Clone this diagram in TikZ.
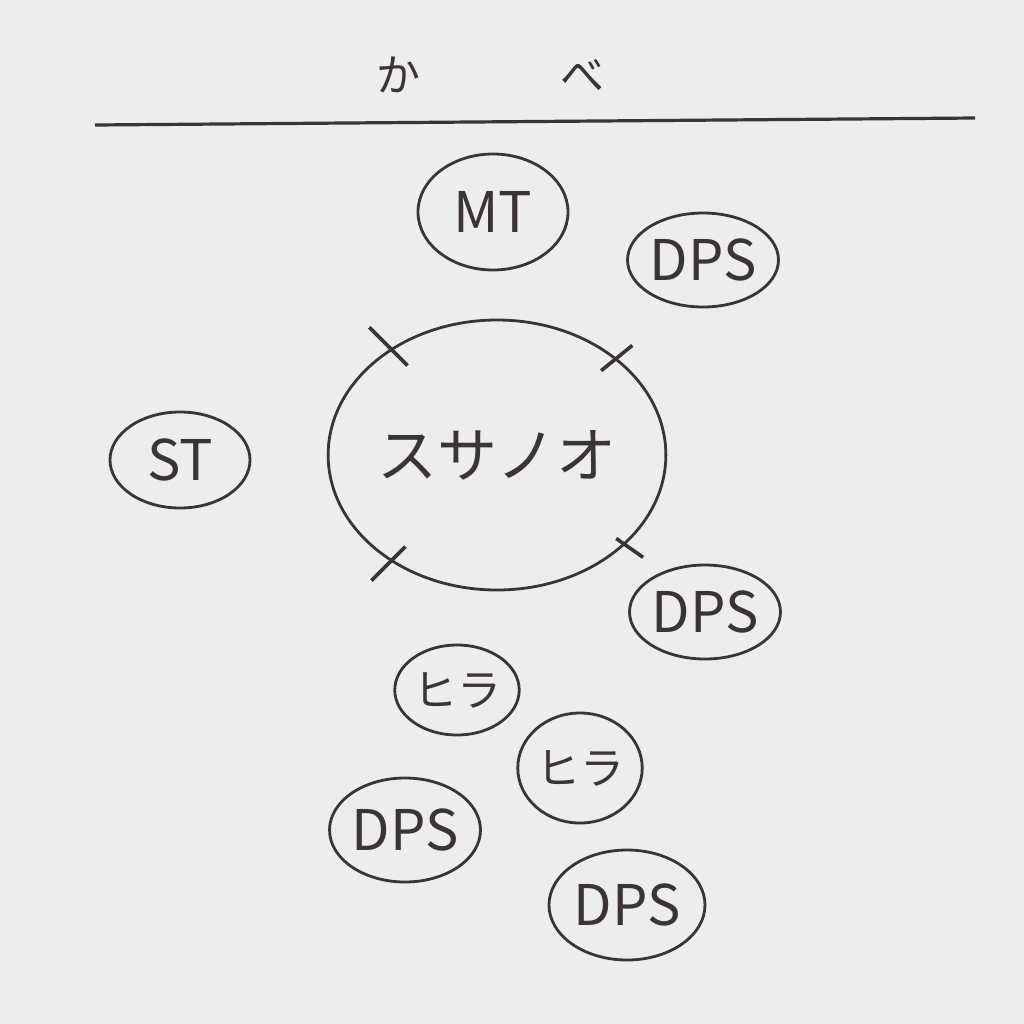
\documentclass[tikz,border=0pt]{standalone}
\usepackage{fontspec}
\newfontfamily\jpfont{Noto Sans CJK JP}
\usetikzlibrary{shapes.geometric,calc}
\definecolor{paper}{HTML}{EDEDED}
\definecolor{ink}{HTML}{3A3434}
\tikzset{
  member/.style={ellipse, draw=ink, line width=1.4pt, inner sep=0pt, text=ink,
    font=\jpfont\fontsize{28}{30}\selectfont},
  tick/.style={draw=ink, line width=1.8pt}
}
\begin{document}
\begin{tikzpicture}[x=0.5pt, y=0.5pt, yscale=-1]
\path[fill=paper] (0,0) rectangle (1024,1024);
\useasboundingbox (0,0) rectangle (1024,1024);

% wall
\path (490,75) node[text=ink, font=\jpfont\fontsize{22}{24}\selectfont] (wall)
  {か\hspace{70pt}べ};
\coordinate (wallL) at (95,125);
\coordinate (wallR) at (975,118);
\path[draw=ink, line width=1.6pt] (wallL) -- (wallR);

% boss
\path (497,455) node[member, minimum width=168pt, minimum height=135pt,
  font=\jpfont\fontsize{30}{32}\selectfont] (susanoo) {スサノオ};
\path[tick] ($(susanoo.center)!1.2!(susanoo.135)$) -- ($(susanoo.center)!0.84!(susanoo.135)$);
\path[tick] ($(susanoo.center)!1.13!(susanoo.39)$) -- ($(susanoo.center)!0.87!(susanoo.39)$);
\path[tick] ($(susanoo.center)!1.18!(susanoo.225)$) -- ($(susanoo.center)!0.86!(susanoo.225)$);
\path[tick] ($(susanoo.center)!1.14!(susanoo.325)$) -- ($(susanoo.center)!0.93!(susanoo.325)$);

% party
\path (493,212) node[member, minimum width=75pt, minimum height=58pt] (mt) {MT};
\path (703,260) node[member, minimum width=72pt, minimum height=47pt] (dps1) {DPS};
\path (180,460) node[member, minimum width=70pt, minimum height=48pt] (st) {ST};
\path (705,612) node[member, minimum width=75pt, minimum height=47pt] (dps2) {DPS};
\path (457,690) node[member, minimum width=55pt, minimum height=45pt,
  font=\jpfont\fontsize{22}{24}\selectfont] (hira1) {ヒラ};
\path (580,768) node[member, minimum width=58pt, minimum height=55pt,
  font=\jpfont\fontsize{22}{24}\selectfont] (hira2) {ヒラ};
\path (405,830) node[member, minimum width=72pt, minimum height=52pt] (dps3) {DPS};
\path (627,905) node[member, minimum width=78pt, minimum height=55pt] (dps4) {DPS};

\end{tikzpicture}
\end{document}
